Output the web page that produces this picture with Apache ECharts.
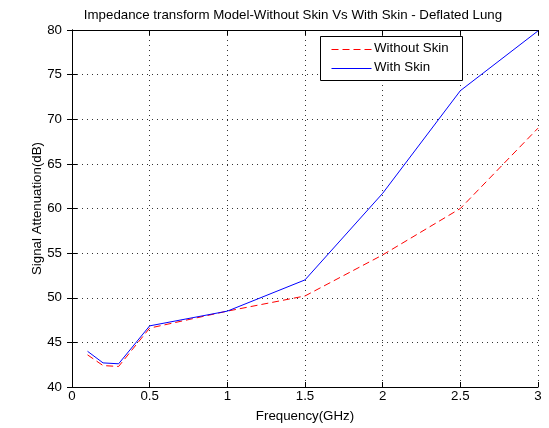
<!DOCTYPE html>
<html>
<head>
<meta charset="utf-8">
<script src="https://cdn.jsdelivr.net/npm/echarts@6/dist/echarts.min.js"></script>
<style>html,body{margin:0;padding:0;background:#fff;}#c{width:549px;height:428px;}</style>
</head>
<body>
<div id="c"></div>
<script>
var freq = [0.1, 0.2, 0.3, 0.5, 1, 1.5, 2, 2.5, 3];
var withoutSkin = [43.6, 42.4, 42.3, 46.6, 48.5, 50.2, 54.8, 60, 69];
var withSkin = [44, 42.7, 42.6, 46.85, 48.5, 52, 61.7, 73.2, 79.9];
var seriesNames = ['Without Skin', 'With Skin'];

function pairs(xs, ys) { return xs.map(function (x, i) { return [x, ys[i]]; }); }

var font = 'Liberation Sans, Arial, sans-serif';
var fs = 13.3;
var redStyle = {color: '#ff0000', width: 1, type: [7, 4]};
var blueStyle = {color: '#0000ff', width: 1, type: 'solid'};
var chart = echarts.init(document.getElementById('c'), null, {renderer: 'canvas'});
var axisBase = {
  axisLine: {show: true, lineStyle: {color: '#000', width: 1}},
  axisTick: {show: true, inside: true, length: 5, lineStyle: {color: '#000'}}
};
chart.setOption({
  animation: false,
  backgroundColor: '#fff',
  title: {
    text: 'Impedance transform Model-Without Skin Vs With Skin - Deflated Lung',
    left: 288, top: 4, textAlign: 'center',
    textStyle: {fontFamily: font, fontSize: fs, fontWeight: 'normal', color: '#000'}
  },
  grid: {left: 72, right: 11, top: 30, bottom: 40},
  graphic: [
    {type: 'rect', left: 320, top: 36, z: 100,
      shape: {width: 142, height: 44},
      style: {fill: '#fff', stroke: '#000', lineWidth: 1}},
    {type: 'line', z: 101, shape: {x1: 331.5, y1: 49.5, x2: 371.5, y2: 49.5},
      style: {stroke: '#ff0000', lineWidth: 1, lineDash: [7, 4]}},
    {type: 'text', left: 374, top: 42, z: 101,
      style: {text: seriesNames[0], fill: '#000', font: fs + 'px ' + font}},
    {type: 'line', z: 101, shape: {x1: 331.5, y1: 68.5, x2: 371.5, y2: 68.5},
      style: {stroke: '#0000ff', lineWidth: 1}},
    {type: 'text', left: 374, top: 61, z: 101,
      style: {text: seriesNames[1], fill: '#000', font: fs + 'px ' + font}}
  ],
  xAxis: [
    Object.assign({}, axisBase, {
      type: 'value', min: 0, max: 3, interval: 0.5, position: 'bottom',
      name: 'Frequency(GHz)', nameLocation: 'middle', nameGap: 23, nameMoveOverlap: false,
      nameTextStyle: {fontFamily: font, fontSize: fs, color: '#000'},
      axisLabel: {fontFamily: font, fontSize: fs, color: '#000', margin: 3,
        formatter: function (v) { return String(v); }},
      splitLine: {show: true, lineStyle: {color: '#333', type: [1, 4], width: 1}}
    }),
    Object.assign({}, axisBase, {
      type: 'value', min: 0, max: 3, interval: 0.5, position: 'top',
      axisLabel: {show: false}, splitLine: {show: false}
    })
  ],
  yAxis: [
    Object.assign({}, axisBase, {
      type: 'value', min: 40, max: 80, interval: 5, position: 'left',
      name: 'Signal Attenuation(dB)', nameLocation: 'middle', nameGap: 28, nameRotate: 90,
      nameMoveOverlap: false,
      nameTextStyle: {fontFamily: font, fontSize: fs, color: '#000'},
      axisLabel: {fontFamily: font, fontSize: fs, color: '#000', margin: 10},
      splitLine: {show: true, lineStyle: {color: '#333', type: [1, 4], width: 1}}
    }),
    Object.assign({}, axisBase, {
      type: 'value', min: 40, max: 80, interval: 5, position: 'right',
      axisLabel: {show: false}, splitLine: {show: false}
    })
  ],
  series: [
    {
      name: seriesNames[0], type: 'line', data: pairs(freq, withoutSkin),
      symbol: 'none', xAxisIndex: 0, yAxisIndex: 0,
      lineStyle: redStyle,
      itemStyle: {color: '#ff0000'}
    },
    {
      name: seriesNames[1], type: 'line', data: pairs(freq, withSkin),
      symbol: 'none', xAxisIndex: 0, yAxisIndex: 0,
      lineStyle: blueStyle,
      itemStyle: {color: '#0000ff'}
    }
  ]
});
</script>
</body>
</html>
